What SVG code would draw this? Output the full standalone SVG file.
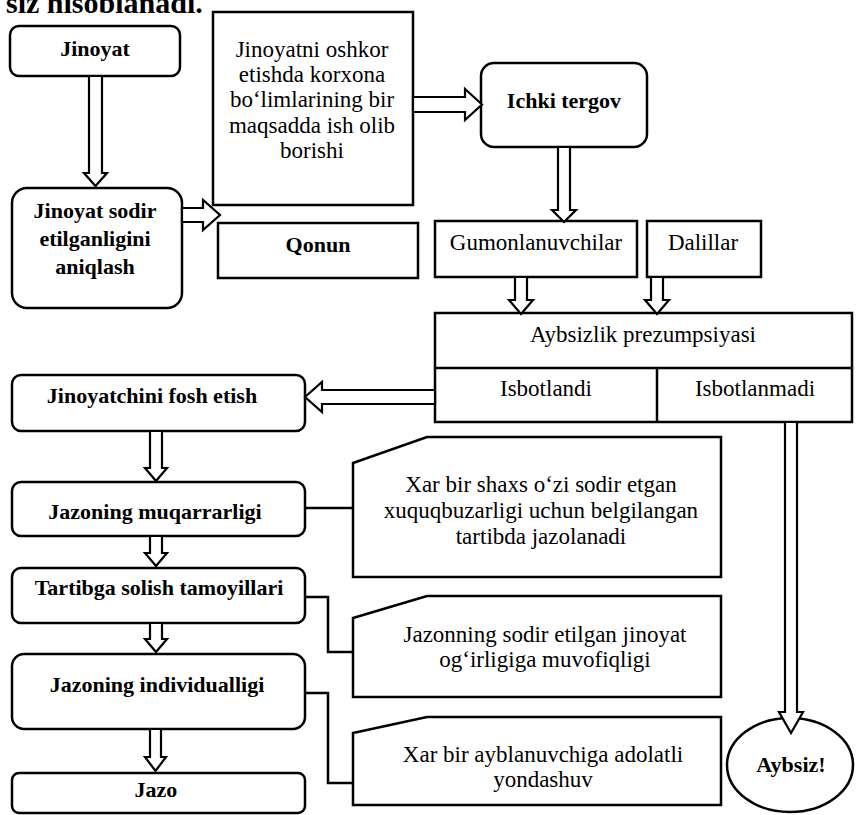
<svg xmlns="http://www.w3.org/2000/svg" width="860" height="815" viewBox="0 0 860 815">
<style>
  .box { fill: #fff; stroke: #000; stroke-width: 2.5; }
  .ln { fill: none; stroke: #000; stroke-width: 2.5; }
  .arr { fill: #fff; stroke: #000; stroke-width: 2.2; stroke-linejoin: miter; }
  text { font-family: "Liberation Serif", "Times New Roman", serif; fill: #000; text-anchor: middle; }
  .r { font-size: 23px; }
  .b { font-size: 22px; font-weight: bold; }
  .hdr { font-size: 30px; font-weight: bold; text-anchor: start; }
</style>
<rect x="0" y="0" width="860" height="815" fill="#fff"/>
<text class="hdr" x="6" y="13">siz hisoblanadi.</text>

<g id="n_jinoyat">
  <rect class="box" x="10" y="26" width="170" height="50" rx="9"/>
  <text class="b" x="95" y="56">Jinoyat</text>
</g>

<g id="n_aniqlash">
  <rect class="box" x="12" y="188" width="170" height="120" rx="15"/>
  <text class="b" x="95" y="218">Jinoyat sodir</text>
  <text class="b" x="95" y="246">etilganligini</text>
  <text class="b" x="95" y="274">aniqlash</text>
</g>

<g id="n_korxona">
  <rect class="box" x="213" y="12" width="200" height="193"/>
  <text class="r" x="312" y="57">Jinoyatni oshkor</text>
  <text class="r" x="312" y="82">etishda korxona</text>
  <text class="r" x="312" y="107">bo‘limlarining bir</text>
  <text class="r" x="312" y="133">maqsadda ish olib</text>
  <text class="r" x="312" y="158">borishi</text>
</g>

<g id="n_ichki">
  <rect class="box" x="481" y="63" width="166" height="84" rx="13"/>
  <text class="b" x="564" y="108">Ichki tergov</text>
</g>

<g id="n_qonun">
  <rect class="box" x="218" y="223" width="200" height="55"/>
  <text class="b" x="318" y="252">Qonun</text>
</g>

<g id="n_gumon">
  <rect class="box" x="435" y="221" width="202" height="56"/>
  <text class="r" x="536" y="250">Gumonlanuvchilar</text>
</g>

<g id="n_dalillar">
  <rect class="box" x="647" y="221" width="114" height="56"/>
  <text class="r" x="703" y="250">Dalillar</text>
</g>

<g id="n_aybsizlik">
  <rect class="box" x="435" y="313" width="417" height="109"/>
  <path class="ln" d="M435,368 H852 M657,368 V422"/>
  <text class="r" x="643" y="342">Aybsizlik prezumpsiyasi</text>
  <text class="r" x="546" y="396">Isbotlandi</text>
  <text class="r" x="755" y="396">Isbotlanmadi</text>
</g>

<g id="n_fosh">
  <rect class="box" x="12" y="375" width="293" height="56" rx="9"/>
  <text class="b" x="152" y="403">Jinoyatchini fosh etish</text>
</g>

<g id="n_muqarrar">
  <rect class="box" x="12" y="482" width="293" height="54" rx="9"/>
  <text class="b" x="155" y="519">Jazoning muqarrarligi</text>
</g>

<g id="n_tartib">
  <rect class="box" x="12" y="568" width="293" height="55" rx="9"/>
  <text class="b" x="159" y="595">Tartibga solish tamoyillari</text>
</g>

<g id="n_individ">
  <rect class="box" x="12" y="654" width="293" height="75" rx="12"/>
  <text class="b" x="157" y="692">Jazoning individualligi</text>
</g>

<g id="n_jazo">
  <rect class="box" x="12" y="773" width="293" height="40" rx="7"/>
  <text class="b" x="156" y="797">Jazo</text>
</g>

<g id="n_note1">
  <polygon class="box" points="353,463 427,437 721,437 721,577 353,577"/>
  <text class="r" x="541" y="492">Xar bir shaxs o‘zi sodir etgan</text>
  <text class="r" x="541" y="518">xuquqbuzarligi uchun belgilangan</text>
  <text class="r" x="541" y="544">tartibda jazolanadi</text>
</g>

<g id="n_note2">
  <polygon class="box" points="353,618 427,596 721,596 721,697 353,697"/>
  <text class="r" x="545" y="642">Jazonning sodir etilgan jinoyat</text>
  <text class="r" x="545" y="667">og‘irligiga muvofiqligi</text>
</g>

<g id="n_note3">
  <polygon class="box" points="353,733 427,717 721,717 721,805 353,805"/>
  <text class="r" x="543" y="762">Xar bir ayblanuvchiga adolatli</text>
  <text class="r" x="543" y="787">yondashuv</text>
</g>

<g id="n_aybsiz">
  <ellipse class="box" cx="790" cy="765" rx="63" ry="47"/>
  <text class="b" x="791" y="772">Aybsiz!</text>
</g>

<g id="connectors">
  <polygon class="arr" points="89,76 102,76 102,173 107,173 95.5,186 84,173 89,173"/>
  <polygon class="arr" points="413,97 465,97 465,89 482,104.5 465,120 465,112 413,112"/>
  <polygon class="arr" points="558,147 570,147 570,210 576,210 564,222 552,210 558,210"/>
  <polygon class="arr" points="182,208 203,208 203,200 220,215 203,230 203,222 182,222"/>
  <polygon class="arr" points="515,277 527,277 527,300 533,300 521,314 509,300 515,300"/>
  <polygon class="arr" points="651,277 663,277 663,300 669,300 657,314 645,300 651,300"/>
  <polygon class="arr" points="435,390 322,390 322,382 305,397 322,412 322,404 435,404"/>
  <polygon class="arr" points="150,431 162,431 162,468 167,468 156,481 145,468 150,468"/>
  <polygon class="arr" points="150,536 162,536 162,553 167,553 156,566 145,553 150,553"/>
  <polygon class="arr" points="150,623 162,623 162,639 167,639 156,652 145,639 150,639"/>
  <polygon class="arr" points="150,729 161,729 161,757 166,757 155.5,771 145,757 150,757"/>
  <polygon class="arr" points="785,422 797,422 797,712 803,712 791,733 779,712 785,712"/>
  <path class="ln" d="M305,508 H353"/>
  <path class="ln" d="M305,597 H328 V652 H353"/>
  <path class="ln" d="M305,693 H328 V783 H353"/>
</g>
</svg>
